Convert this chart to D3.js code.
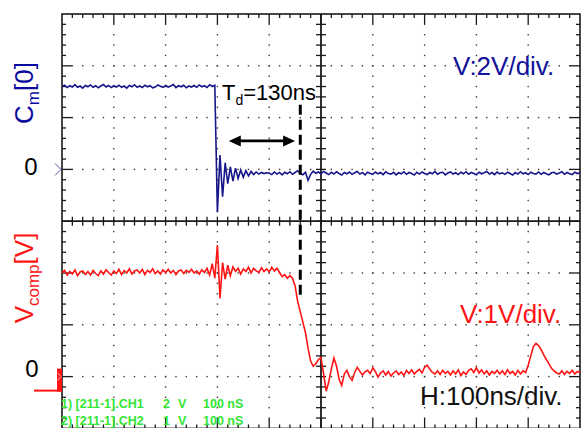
<!DOCTYPE html>
<html lang="en">
<head>
<meta charset="UTF-8">
<title>Cm[0] / Vcomp scope capture</title>
<script src="https://cdnjs.cloudflare.com/ajax/libs/d3/7.8.5/d3.min.js"></script>
<style>
  body { margin: 0; background: #fff; }
  svg { display: block; font-family: "Liberation Sans", Arial, sans-serif; }
</style>
</head>
<body>
<div id="chart"></div>
<script>
// sample times, 100 ns/div over 10 divisions, one sample every 5 ns
const timeNs = d3.range(0, 1001, 5);

// CH1: C_m[0] in volts (2 V/div)
const cmVolts = [
  3.20, 3.25, 3.16, 3.23, 3.18, 3.27, 3.17, 3.22, 3.14, 3.24,
  3.19, 3.26, 3.17, 3.23, 3.15, 3.22, 3.28, 3.18, 3.24, 3.16,
  3.23, 3.18, 3.25, 3.17, 3.22, 3.14, 3.24, 3.19, 3.27, 3.17,
  3.22, 3.16, 3.25, 3.19, 3.23, 3.15, 3.18, 3.26, 3.21, 3.17,
  3.24, 3.18, 3.22, 3.28, 3.16, 3.23, 3.19, 3.25, 3.15, 3.22,
  3.18, 3.24, 3.17, 3.26, 3.19, 3.23, 3.16, 3.27, 3.20, 3.25,
  -1.65,
  0.55, -1.05, 0.25, -0.55, 0.10, -0.45, 0.05, -0.35, -0.02,
  -0.30, -0.05, -0.25, -0.08, -0.20, -0.10, -0.18, -0.12, -0.16, -0.13,
  -0.14, -0.20, -0.10, -0.18, -0.12, -0.21, -0.11, -0.17, -0.09, -0.19,
  -0.12, -0.05, -0.16, -0.21, -0.11, -0.42, -0.19, -0.07, -0.15, -0.10,
  -0.17, -0.08, -0.14, -0.20, -0.11, -0.18, -0.09, -0.16, -0.22, -0.12,
  -0.17, -0.10, -0.19, -0.13, -0.08, -0.18, -0.12, -0.21, -0.11, -0.16,
  -0.19, -0.10, -0.17, -0.12, -0.20, -0.09, -0.16, -0.18, -0.11, -0.21,
  -0.13, -0.17, -0.09, -0.19, -0.12, -0.16, -0.22, -0.11, -0.18, -0.10,
  -0.16, -0.20, -0.12, -0.17, -0.08, -0.19, -0.13, -0.11, -0.21, -0.14,
  -0.10, -0.18, -0.13, -0.20, -0.11, -0.17, -0.09, -0.19, -0.12, -0.16,
  -0.21, -0.11, -0.17, -0.13, -0.08, -0.18, -0.12, -0.20, -0.10, -0.17,
  -0.13, -0.19, -0.11, -0.16, -0.22, -0.12, -0.18, -0.09, -0.17, -0.13,
  -0.20, -0.11, -0.16, -0.18, -0.10, -0.19, -0.12, -0.17, -0.21, -0.13,
  -0.11, -0.18, -0.14, -0.09, -0.19, -0.12, -0.17, -0.20, -0.11, -0.16, -0.13
];

// CH2: V_comp in volts (1 V/div)
const vcompVolts = [
  2.00, 2.05, 1.96, 2.03, 1.98, 2.06, 1.95, 2.02, 2.04, 1.97,
  2.03, 1.96, 2.05, 1.99, 1.95, 2.04, 1.98, 2.06, 2.01, 1.96,
  2.04, 1.99, 2.07, 1.97, 2.05, 2.00, 2.08, 1.98, 2.04, 2.06,
  2.00, 2.07, 1.97, 2.05, 2.01, 2.08, 1.99, 2.04, 1.98, 2.06,
  2.01, 2.07, 2.00, 2.05, 1.97, 2.04, 2.06, 1.99, 2.05, 2.01,
  2.07, 2.00, 2.04, 1.98, 2.06, 2.01, 2.09, 1.96,
  2.18, 1.90, 2.54, 1.51, 2.20, 1.88, 2.15, 1.95,
  2.12, 2.03, 2.09, 1.98,
  2.08, 2.03, 2.11, 2.00, 2.09, 2.04, 2.01, 2.10, 2.03, 2.08,
  2.02, 2.11, 2.04, 2.09, 2.01,
  1.93, 1.97, 1.90, 1.95,
  1.90,
  1.75, 1.45, 1.25, 1.05, 0.85, 0.55, 0.30, 0.20, 0.25, 0.33,
  0.37, 0.05, -0.28, -0.10, 0.15, 0.36, 0.20, -0.05, -0.17, 0.05,
  0.12, 0.00, -0.07, 0.08, 0.18, 0.10, 0.03, 0.09, 0.12, 0.06,
  0.17, 0.10, -0.01, 0.07, 0.11, 0.03, 0.10, 0.01, 0.07, 0.11,
  0.04, 0.09, 0.02, 0.12, 0.06, 0.13, 0.05, 0.10, 0.14, 0.07,
  0.18, 0.22, 0.14, 0.08, 0.05, 0.11, 0.04, 0.12, 0.06, 0.10,
  0.03, 0.11, 0.05, 0.13, 0.02, 0.09, 0.04, 0.12, 0.15, 0.08,
  0.17, 0.07, 0.13, 0.05, 0.11, 0.03, 0.10, 0.06, 0.12, 0.05,
  0.11, 0.04, 0.13, 0.06, 0.10, 0.03, 0.12, 0.05, 0.11, 0.08,
  0.22, 0.40, 0.58, 0.64, 0.60, 0.52, 0.42, 0.33, 0.25, 0.16,
  0.11, 0.07, 0.05, 0.11, 0.04, 0.10, 0.06, 0.12, 0.05, 0.10, 0.08
];

const channelNames = ["1) [211-1].CH1", "2) [211-1].CH2"];
const channelVoltsPerDiv = ["2", "1"];
const channelTimePerDiv = ["100 nS", "100 nS"];

// delay annotation (ns)
const delayFrom = 322, delayTo = 450, delayMarker = 460;

const width = 582, height = 428;
const plotLeft = 62, plotRight = 580, plotTop = 14, plotBottom = 428.4;

const svg = d3.select("#chart").append("svg")
    .attr("width", width)
    .attr("height", height);

const x = d3.scaleLinear().domain([0, 1000]).range([plotLeft, plotRight]);
const yDiv = d3.scaleLinear().domain([-4, 4]).range([plotBottom, plotTop]);
const y1 = d3.scaleLinear().domain([-10, 6]).range([plotBottom, plotTop]);  // CH1 zero one div above centre
const y2 = d3.scaleLinear().domain([-1, 7]).range([plotBottom, plotTop]);   // CH2 zero three div below centre

// dotted graticule
const grid = svg.append("g").attr("fill", "#3a3a3a");
const majorX = d3.range(1, 10).filter(k => k !== 5);
const majorY = d3.range(-3, 4).filter(k => k !== 0);
const minorY = d3.range(-19, 20).map(j => j / 5);
const minorX = d3.range(1, 50).map(j => j * 20);
majorX.forEach(k => {
    grid.selectAll(null).data(minorY).enter().append("rect")
        .attr("x", x(k * 100) - 0.7).attr("y", d => yDiv(d) - 0.7)
        .attr("width", 1.4).attr("height", 1.4);
});
majorY.forEach(k => {
    grid.selectAll(null).data(minorX).enter().append("rect")
        .attr("x", d => x(d) - 0.7).attr("y", yDiv(k) - 0.7)
        .attr("width", 1.4).attr("height", 1.4);
});

// frame and ticks
const axes = svg.append("g").attr("stroke", "#1a1a1a").attr("fill", "none");
axes.append("rect")
    .attr("x", plotLeft).attr("y", plotTop)
    .attr("width", plotRight - plotLeft).attr("height", plotBottom - plotTop)
    .attr("stroke-width", 1.6);

const tickLen = d => (Math.round(d * 5) % 5 === 0 ? 10 : 4);
minorX.forEach(t => {
    const len = t % 100 === 0 ? 10 : 4;
    const xx = x(t);
    axes.append("line").attr("x1", xx).attr("x2", xx).attr("y1", plotTop).attr("y2", plotTop + len).attr("stroke-width", 1.3);
    axes.append("line").attr("x1", xx).attr("x2", xx).attr("y1", plotBottom).attr("y2", plotBottom - len).attr("stroke-width", 1.3);
    axes.append("line").attr("x1", xx).attr("x2", xx).attr("y1", yDiv(0) - 4.5).attr("y2", yDiv(0) + 4.5).attr("stroke-width", 1.3);
});
minorY.forEach(d => {
    const len = tickLen(d);
    const yy = yDiv(d);
    axes.append("line").attr("x1", plotLeft).attr("x2", plotLeft + len).attr("y1", yy).attr("y2", yy).attr("stroke-width", 1.3);
    axes.append("line").attr("x1", plotRight).attr("x2", plotRight - len).attr("y1", yy).attr("y2", yy).attr("stroke-width", 1.3);
    axes.append("line").attr("x1", x(500) - 5).attr("x2", x(500) + 5).attr("y1", yy).attr("y2", yy).attr("stroke-width", 1.3);
});
axes.append("line").attr("x1", plotLeft).attr("x2", plotRight).attr("y1", yDiv(0)).attr("y2", yDiv(0)).attr("stroke-width", 1.8);
axes.append("line").attr("x1", x(500)).attr("x2", x(500)).attr("y1", plotTop).attr("y2", plotBottom).attr("stroke-width", 1.8);

// traces
svg.append("clipPath").attr("id", "plot")
    .append("rect").attr("x", plotLeft).attr("y", plotTop)
    .attr("width", plotRight - plotLeft).attr("height", plotBottom - plotTop);

const traces = svg.append("g").attr("clip-path", "url(#plot)").attr("fill", "none");
traces.append("path")
    .attr("d", d3.line().x((d, i) => x(timeNs[i])).y(d => y1(d))(cmVolts))
    .attr("stroke", "#16168a").attr("stroke-width", 1.6);
traces.append("path")
    .attr("d", d3.line().x((d, i) => x(timeNs[i])).y(d => y2(d))(vcompVolts))
    .attr("stroke", "#ff1414").attr("stroke-width", 1.6);

// delay annotation
svg.append("line")
    .attr("x1", x(delayMarker)).attr("x2", x(delayMarker))
    .attr("y1", yDiv(2.25)).attr("y2", yDiv(-1.5))
    .attr("stroke", "#000").attr("stroke-width", 3)
    .attr("stroke-dasharray", "10,5");

const ay = yDiv(1.55), ax0 = x(delayFrom), ax1 = x(delayTo);
svg.append("line")
    .attr("x1", ax0 + 6).attr("x2", ax1 - 6).attr("y1", ay).attr("y2", ay)
    .attr("stroke", "#000").attr("stroke-width", 2.6);
svg.append("path")
    .attr("d", `M${ax0},${ay}L${ax0 + 12},${ay - 5.5}L${ax0 + 12},${ay + 5.5}Z` +
               `M${ax1},${ay}L${ax1 - 12},${ay - 5.5}L${ax1 - 12},${ay + 5.5}Z`)
    .attr("fill", "#000");

const td = svg.append("text").attr("x", 222).attr("y", 100).attr("font-size", 22).attr("fill", "#000");
td.append("tspan").text("T");
td.append("tspan").attr("font-size", 14).attr("dy", 5).text("d");
td.append("tspan").attr("dy", -5).text("=130ns");

// channel labels
const cm = svg.append("text")
    .attr("transform", "translate(33,93) rotate(-90)")
    .attr("text-anchor", "middle").attr("font-size", 26).attr("fill", "#0a0aa0");
cm.append("tspan").text("C");
cm.append("tspan").attr("font-size", 17).attr("dy", 6).text("m");
cm.append("tspan").attr("dy", -6).text("[0]");

const vc = svg.append("text")
    .attr("transform", "translate(33,278) rotate(-90)")
    .attr("text-anchor", "middle").attr("font-size", 26).attr("fill", "#ff1414");
vc.append("tspan").text("V");
vc.append("tspan").attr("font-size", 17).attr("dy", 6).text("comp");
vc.append("tspan").attr("dy", -6).text("[V]");

svg.append("text").attr("x", 31).attr("y", y1(0) + 6).attr("font-size", 24)
    .attr("text-anchor", "middle").attr("fill", "#000").text("0");
svg.append("text").attr("x", 32).attr("y", y2(0) + 0.5).attr("font-size", 24)
    .attr("text-anchor", "middle").attr("fill", "#000").text("0");

// ground markers
svg.append("path")
    .attr("d", `M55,${y1(0) - 6}L61,${y1(0)}L55,${y1(0) + 6}`)
    .attr("fill", "none").attr("stroke", "#5555aa").attr("stroke-width", 1);
svg.append("rect").attr("x", 57).attr("y", y2(0) - 8).attr("width", 5).attr("height", 23).attr("fill", "#ff1414");
svg.append("path")
    .attr("d", `M57.5,${y2(0) - 4}L61,${y2(0)}L57.5,${y2(0) + 4}`)
    .attr("fill", "none").attr("stroke", "#ffb0b0").attr("stroke-width", 1);
svg.append("line").attr("x1", 34).attr("x2", 62).attr("y1", y2(0) + 14).attr("y2", y2(0) + 14)
    .attr("stroke", "#ff1414").attr("stroke-width", 2);

// scale notes
svg.append("text").attr("x", 453).attr("y", 75).attr("font-size", 26).attr("fill", "#12129a").text("V:2V/div.");
svg.append("text").attr("x", 460).attr("y", 323).attr("font-size", 26).attr("fill", "#ff1414").text("V:1V/div.");
svg.append("text").attr("x", 420).attr("y", 405).attr("font-size", 26).attr("fill", "#111").text("H:100ns/div.");

// scope status lines
const status = svg.append("g").attr("font-size", 12.5).attr("font-weight", "bold").attr("fill", "#33e633");
channelNames.forEach((name, i) => {
    const by = 408 + i * 17;
    status.append("text").attr("x", 61).attr("y", by).text(name);
    status.append("text").attr("x", 163).attr("y", by).text(channelVoltsPerDiv[i]);
    status.append("text").attr("x", 178).attr("y", by).text("V");
    status.append("text").attr("x", 203).attr("y", by).text(channelTimePerDiv[i]);
});
</script>
</body>
</html>
